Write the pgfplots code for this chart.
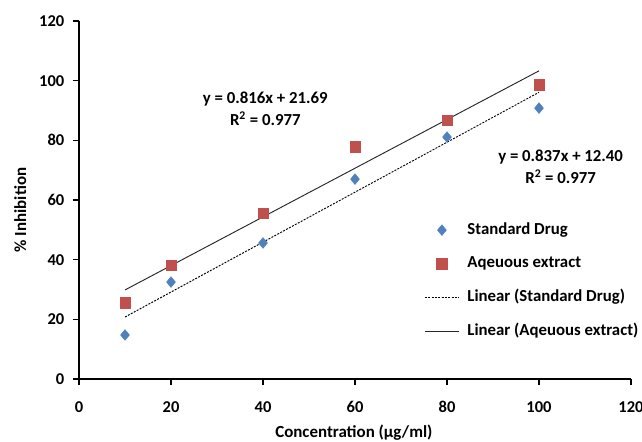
\documentclass[border=0pt]{standalone}
\usepackage{fontspec}
\setmainfont{Carlito}
\usepackage{pgfplots}
\pgfplotsset{compat=1.18}
\definecolor{sdblue}{HTML}{4F81BD}
\definecolor{aqred}{HTML}{C0504D}
\begin{document}
\begin{tikzpicture}[font=\fontsize{12.6}{15}\selectfont\bfseries]
\begin{axis}[
  at={(0,0)}, anchor=south west,
  scale only axis, width=414pt, height=268.5pt,
  xmin=0, xmax=120, ymin=0, ymax=120,
  xtick={0,20,...,120}, ytick={0,20,...,120},
  axis x line=bottom, axis y line=left,
  axis line style={-, line width=1.1pt, black},
  tick align=outside, major tick length=4.5pt,
  tick style={line width=1.1pt, black},
  /pgf/number format/assume math mode=true,
  ticklabel style={font=\fontsize{12.4}{14}\selectfont\bfseries},
  xticklabel style={anchor=center, yshift=-16.5pt},
  yticklabel style={anchor=east, xshift=-3pt},
  xlabel={Concentration (µg/ml)},
  ylabel={\% Inhibition},
  xlabel style={at={(axis description cs:0.498,0)}, anchor=center, yshift=-40.3pt, font=\fontsize{12.7}{15}\selectfont\bfseries},
  ylabel style={at={(axis description cs:-0.1065,0.472)}, anchor=center, font=\fontsize{12.7}{15}\selectfont\bfseries},
  legend image code/.code={\draw[mark repeat=2,mark phase=2,#1] plot coordinates {(0pt,0pt)(12.75pt,0pt)(25.5pt,0pt)};},
  legend cell align=left,
  legend style={at={(axis cs:75.1,52.8)}, anchor=north west, draw=none, fill=none,
    inner sep=0pt, outer sep=0pt, row sep=12.3pt,
    font=\fontsize{12.6}{15}\selectfont\bfseries,
    nodes={inner sep=1pt, text height=8.5pt, text depth=2.5pt},
    /tikz/every odd column/.append style={column sep=5pt}},
]
\addplot[only marks, mark=diamond*, mark size=4pt, mark options={fill=sdblue, draw=sdblue, xscale=1.1}]
  coordinates {(10,14.75) (20,32.5) (40,45.6) (60,67.0) (80,81.1) (100,90.8)};
\addlegendentry{Standard Drug}
\addplot[only marks, mark=square*, mark size=3.9pt, mark options={fill=aqred, draw=aqred}]
  coordinates {(10,25.5) (20,38.2) (40,55.6) (60,77.8) (80,86.8) (100,98.6)};
\addlegendentry{Aqeuous extract}
\addplot[black, line width=0.7pt, dash pattern=on 1.5pt off 1pt]
  coordinates {(10,20.77) (100,96.10)};
\addlegendentry{Linear (Standard Drug)}
\addplot[black!85, line width=0.7pt]
  coordinates {(10,29.85) (100,103.29)};
\addlegendentry{Linear (Aqeuous extract)}
\node[align=center, font=\fontsize{12.6}{16.5}\selectfont\bfseries] at (axis cs:40.5,90.5) {y = 0.816x + 21.69\\R\textsuperscript{2} = 0.977};
\node[align=center, font=\fontsize{12.6}{16.5}\selectfont\bfseries] at (axis cs:104.7,71.2) {y = 0.837x + 12.40\\R\textsuperscript{2} = 0.977};
\end{axis}
\pgfresetboundingbox
\path (-59.25pt,-47.25pt) rectangle (422.25pt,284.25pt);
\end{tikzpicture}
\end{document}
